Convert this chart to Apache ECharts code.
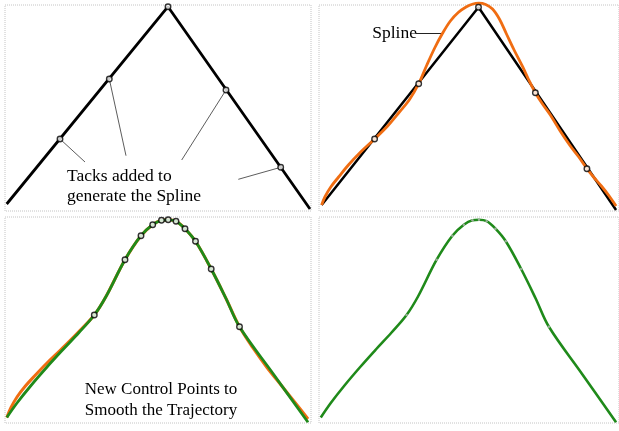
<!DOCTYPE html>
<html><head><meta charset="utf-8">
<script src="https://cdn.jsdelivr.net/npm/echarts@6/dist/echarts.min.js"></script>
<style>html,body{margin:0;padding:0;background:#fff}#c{width:619px;height:431px}</style>
</head><body><div id="c"></div>
<script>
// Diagram units per panel: x 0..306, y 0..206
const guideLine1 = [[1.7,7],[163,204.3],[305,2]];
const tacks1 = [[55,72],[104.3,132],[163,204.3],[221,121],[275.7,43.7]];
const guideLine2 = [[2.7,6],[162.7,203.7],[303,1]];
const tacks2 = [[56.7,72],[101.7,127.3],[162.7,203.7],[220.7,118.3],[273.3,42.3]];
const splineP2 = [[2.7,6],[6,14],[12,24],[20,34],[30,46],[42,58.5],[56.7,72],[70,85],[82,99],[92,111],[101.7,127.3],[110,146],[118,163],[126,177.7],[134,190],[142,198.5],[150,204],[157,207],[163,207.8],[170,206.5],[177,202],[184,192],[191,177.5],[199,161],[207.7,144.3],[214,131],[220.7,118.3],[228,107],[236,96],[246,80],[256,65.5],[265,54],[273.3,42.3],[280,34],[288,25],[296,15],[303,5]];
const ctrlPts = [[89.3,108],[120,163.3],[136,187.3],[147.7,198.3],[156.5,202.7],[163.2,203.2],[171,201.8],[180,194.3],[190.5,181.7],[206.2,154],[234.5,96.2]];
const smoothTraj = [[1.8,5.5],[12,20],[26,37.5],[42,56],[58,73.5],[74,90.5],[89.3,108],[101,126.5],[120,163.3],[136,187.3],[147.7,198.3],[156.5,202.7],[163.2,203.2],[171,201.8],[180,194.3],[190.5,181.7],[206.2,154],[221,124.5],[234.5,96.2],[268,49.5],[303,0.8]];
const splineP3 = [[1.8,5.5],[6,15.5],[12,26],[20,36.5],[30,47.5],[42,60],[56,73.5],[72,89.5],[89.3,108],[101,126.5],[120,163.3],[136,187.3],[147.7,198.3],[156.5,202.7],[163.2,203.2],[171,201.8],[180,194.3],[190.5,181.7],[206.2,154],[221,124.5],[234.5,96.2],[248,75],[262,55.5],[276,38],[288,23],[296,13],[303,4]];
const leaders1 = [[[55,72],[80,49]],[[104.3,132],[121,55.3]],[[221,121],[176.7,51]],[[275.7,43.7],[233.3,31.7]]];
const splineLeader = [[99,177.5],[126,177.5]];
const textTacks = ['Tacks added to','generate the Spline'];
const textSpline = 'Spline';
const textCtrl = ['New Control Points to','Smooth the Trajectory'];

const ORANGE = '#f06d12', GREEN = '#1f8a1a';
const SERIF = '"Liberation Serif", "Times New Roman", serif';
const panels = [
  {left:5, top:5}, {left:319, top:5}, {left:5, top:217}, {left:319, top:217}
];
const grid = panels.map(p => ({left:p.left, top:p.top, width:306, height:206, show:true,
  backgroundColor:'transparent', borderColor:'#c4c4c4', borderWidth:1, borderType:'dotted'}));
const xAxis = panels.map((p,i) => ({type:'value', gridIndex:i, min:0, max:306, show:false}));
const yAxis = panels.map((p,i) => ({type:'value', gridIndex:i, min:0, max:206, show:false}));

function line(i, data, color, width, smooth, z, extra) {
  return Object.assign({type:'line', xAxisIndex:i, yAxisIndex:i, data, showSymbol:false, symbol:'none',
    smooth: smooth || false, clip:false, z: z || 2, silent:true,
    lineStyle:{color, width}}, extra || {});
}
function marks(i, data, size, style, z) {
  return {type:'scatter', xAxisIndex:i, yAxisIndex:i, data, symbol:'circle', symbolSize:size,
    itemStyle:style, z: z || 10, silent:true};
}
const hollow = {color:'#fff', borderColor:'#000', borderWidth:1.4};
const series = [];
// Panel 1
leaders1.forEach(seg => series.push(line(0, seg, '#4a4a4a', 0.9, false, 1)));
series.push(line(0, guideLine1, '#000', 2.8, false, 3));
series.push(marks(0, tacks1, 5.5, hollow));
// Panel 2
series.push(line(1, splineLeader, '#222', 1, false, 1));
series.push(line(1, guideLine2, '#000', 2.5, false, 3));
series.push(line(1, splineP2, ORANGE, 2.8, 0.35, 4));
series.push(marks(1, tacks2, 5.5, hollow));
// Panel 3
series.push(line(2, splineP3, ORANGE, 3, 0.35, 3));
series.push(line(2, smoothTraj, GREEN, 2.8, 0.35, 4));
series.push(marks(2, ctrlPts, 5.5, hollow));
// Panel 4
series.push(line(3, smoothTraj, GREEN, 2.6, 0.35, 4));
series.push(marks(3, ctrlPts, 2.5, {color:'#b8b8b8'}));

const txt = (x, y, text, size, align) => ({type:'text', x, y, silent:true, z:100,
  style:{text, fill:'#000', font: size + 'px ' + SERIF, align: align, verticalAlign:'middle'}});
const chart = echarts.init(document.getElementById('c'), null, {renderer:'canvas'});
chart.setOption({
  animation:false, backgroundColor:'#fff', grid, xAxis, yAxis, series,
  graphic:[
    txt(67, 176, textTacks[0], 17.5, 'left'),
    txt(67, 196, textTacks[1], 17.5, 'left'),
    txt(417, 33, textSpline, 17.5, 'right'),
    txt(161, 390, textCtrl[0], 17, 'center'),
    txt(161, 411, textCtrl[1], 17, 'center')
  ]
});
</script></body></html>
